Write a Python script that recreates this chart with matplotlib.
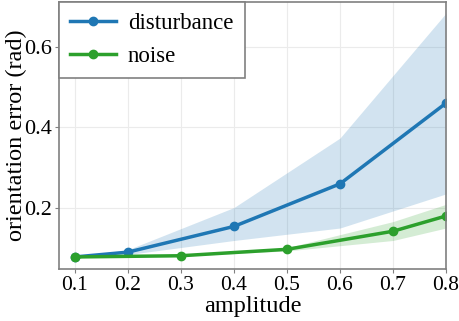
import matplotlib
matplotlib.use("Agg")
import matplotlib.pyplot as plt

plt.rcParams['font.family'] = ['Liberation Serif', 'DejaVu Serif']

dist_x = [0.1, 0.2, 0.4, 0.6, 0.8]
dist_y = [0.077, 0.089, 0.153, 0.259, 0.460]
dist_lo = [0.077, 0.083, 0.118, 0.149, 0.234]
dist_hi = [0.077, 0.095, 0.200, 0.373, 0.684]

noise_x = [0.1, 0.3, 0.5, 0.7, 0.8]
noise_y = [0.077, 0.080, 0.096, 0.141, 0.179]
noise_lo = [0.076, 0.079, 0.092, 0.118, 0.149]
noise_hi = [0.078, 0.081, 0.100, 0.165, 0.208]

xticks = [0.1, 0.2, 0.3, 0.4, 0.5, 0.6, 0.7, 0.8]
yticks = [0.2, 0.4, 0.6]

fig = plt.figure(figsize=(4.59, 3.21), dpi=100)
ax = fig.add_axes([0.1285, 0.162, 0.8432, 0.832])

blue = '#1f77b4'
green = '#2ca02c'
ax.fill_between(dist_x, dist_lo, dist_hi, color=blue, alpha=0.2, linewidth=0)
ax.fill_between(noise_x, noise_lo, noise_hi, color=green, alpha=0.2, linewidth=0)
ax.plot(dist_x, dist_y, '-o', color=blue, lw=2.5, ms=6, label='disturbance')
ax.plot(noise_x, noise_y, '-o', color=green, lw=2.5, ms=6, label='noise')

ax.set_xlim(0.07, 0.8)
ax.set_ylim(0.047, 0.712)
ax.set_xticks(xticks)
ax.set_xticklabels([f'{v:.1f}' for v in xticks])
ax.set_yticks(yticks)
ax.set_yticklabels([f'{v:.1f}' for v in yticks])
ax.tick_params(axis='x', labelsize=15.5, length=3, color='#808080', pad=2)
ax.tick_params(axis='y', labelsize=16, length=3, color='#808080', pad=2)
ax.grid(True, color='#ebebeb', lw=0.8)
ax.set_axisbelow(True)
for s in ax.spines.values():
    s.set_color('#808080')
    s.set_linewidth(1.2)

ax.set_xlabel('amplitude', fontsize=17.5, labelpad=1)
ax.set_ylabel('orientation error (rad)', fontsize=17.5)
ax.yaxis.set_label_coords(-0.083, 0.5)

leg = ax.legend(loc='upper left', fontsize=16.5, borderaxespad=0, fancybox=False,
                edgecolor='#808080', framealpha=1, handlelength=2.0,
                handletextpad=0.5, borderpad=0.5)
leg.get_frame().set_linewidth(1.2)

fig.savefig('out.png', dpi=100)
